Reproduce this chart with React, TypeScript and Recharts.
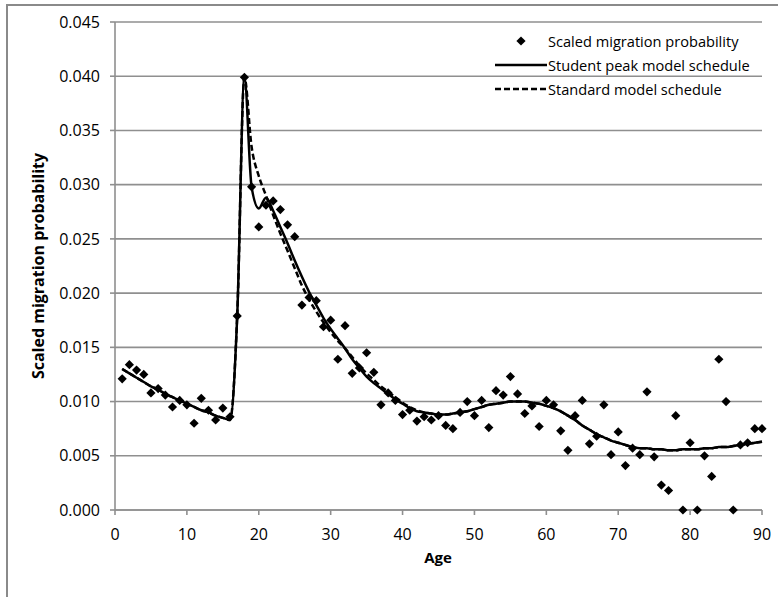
import React from 'react';
import { ComposedChart, Line, Scatter, XAxis, YAxis, CartesianGrid } from 'recharts';

// Single years of age, 1..90
const ages: number[] = [
  1, 2, 3, 4, 5, 6, 7, 8, 9, 10, 11, 12, 13, 14, 15, 16, 17, 18, 19, 20,
  21, 22, 23, 24, 25, 26, 27, 28, 29, 30, 31, 32, 33, 34, 35, 36, 37, 38, 39, 40,
  41, 42, 43, 44, 45, 46, 47, 48, 49, 50, 51, 52, 53, 54, 55, 56, 57, 58, 59, 60,
  61, 62, 63, 64, 65, 66, 67, 68, 69, 70, 71, 72, 73, 74, 75, 76, 77, 78, 79, 80,
  81, 82, 83, 84, 85, 86, 87, 88, 89, 90,
];

// Observed scaled migration probability by age
const observed: number[] = [
  0.0121, 0.0134, 0.0129, 0.0125, 0.0108, 0.0112, 0.0106, 0.0095, 0.0101, 0.0097,
  0.0080, 0.0103, 0.0092, 0.0083, 0.0094, 0.0086, 0.0179, 0.0399, 0.0298, 0.0261,
  0.0281, 0.0285, 0.0277, 0.0263, 0.0252, 0.0189, 0.0196, 0.0193, 0.0169, 0.0175,
  0.0139, 0.0170, 0.0126, 0.0131, 0.0145, 0.0127, 0.0097, 0.0108, 0.0101, 0.0088,
  0.0092, 0.0082, 0.0086, 0.0083, 0.0087, 0.0078, 0.0075, 0.0090, 0.0100, 0.0087,
  0.0101, 0.0076, 0.0110, 0.0106, 0.0123, 0.0107, 0.0089, 0.0096, 0.0077, 0.0101,
  0.0097, 0.0073, 0.0055, 0.0087, 0.0101, 0.0061, 0.0068, 0.0097, 0.0051, 0.0072,
  0.0041, 0.0057, 0.0051, 0.0109, 0.0049, 0.0023, 0.0018, 0.0087, 0.0000, 0.0062,
  0.0000, 0.0050, 0.0031, 0.0139, 0.0100, 0.0000, 0.0060, 0.0062, 0.0075, 0.0075,
];

// Fitted schedule with the student peak component
const studentPeak: number[] = [
  0.0130, 0.0126, 0.0122, 0.0118, 0.0114, 0.0111, 0.0107, 0.0104, 0.0101, 0.0098,
  0.0095, 0.0092, 0.0090, 0.0087, 0.0085, 0.0083, 0.0179, 0.0399, 0.0298, 0.0278,
  0.0288, 0.0276, 0.0261, 0.0246, 0.0230, 0.0215, 0.0201, 0.0189, 0.0177, 0.0167,
  0.0158, 0.0149, 0.0139, 0.0131, 0.0123, 0.0117, 0.0112, 0.0107, 0.0102, 0.0098,
  0.0094, 0.0091, 0.0090, 0.0089, 0.0088, 0.0088, 0.0089, 0.0090, 0.0091, 0.0093,
  0.0095, 0.0097, 0.0098, 0.0099, 0.0100, 0.0100, 0.0100, 0.0099, 0.0098, 0.0096,
  0.0094, 0.0091, 0.0087, 0.0083, 0.0078, 0.0074, 0.0070, 0.0067, 0.0064, 0.0062,
  0.0060, 0.0058, 0.0057, 0.0057, 0.0056, 0.0056, 0.0055, 0.0055, 0.0056, 0.0056,
  0.0056, 0.0057, 0.0057, 0.0058, 0.0058, 0.0059, 0.0060, 0.0061, 0.0062, 0.0063,
];

// Fitted standard schedule
const standardModel: number[] = [
  0.0130, 0.0126, 0.0122, 0.0118, 0.0114, 0.0111, 0.0107, 0.0104, 0.0101, 0.0098,
  0.0095, 0.0092, 0.0090, 0.0087, 0.0085, 0.0083, 0.0179, 0.0399, 0.0335, 0.0308,
  0.0290, 0.0272, 0.0255, 0.0239, 0.0223, 0.0207, 0.0194, 0.0183, 0.0173, 0.0164,
  0.0156, 0.0149, 0.0141, 0.0133, 0.0126, 0.0120, 0.0114, 0.0109, 0.0104, 0.0099,
  0.0095, 0.0092, 0.0090, 0.0089, 0.0088, 0.0088, 0.0089, 0.0090, 0.0091, 0.0093,
  0.0095, 0.0097, 0.0098, 0.0099, 0.0100, 0.0100, 0.0100, 0.0099, 0.0098, 0.0096,
  0.0094, 0.0091, 0.0087, 0.0083, 0.0078, 0.0074, 0.0070, 0.0067, 0.0064, 0.0062,
  0.0060, 0.0058, 0.0057, 0.0057, 0.0056, 0.0056, 0.0055, 0.0055, 0.0056, 0.0056,
  0.0056, 0.0057, 0.0057, 0.0058, 0.0058, 0.0059, 0.0060, 0.0061, 0.0062, 0.0063,
];

const xTicks: number[] = [0, 10, 20, 30, 40, 50, 60, 70, 80, 90];
const yTicks: number[] = [0, 0.005, 0.01, 0.015, 0.02, 0.025, 0.03, 0.035, 0.04, 0.045];

const legendLabels: string[] = [
  'Scaled migration probability',
  'Student peak model schedule',
  'Standard model schedule',
];

const xTitle = 'Age';
const yTitle = 'Scaled migration probability';

const rows = ages.map((age, i) => ({
  age,
  obs: observed[i],
  student: studentPeak[i],
  standard: standardModel[i],
}));

const FONT = "'Open Sans', 'Noto Sans', sans-serif";
const GRID = '#8f8f8f';

const Diamond = (props: any) => {
  const { cx, cy } = props;
  if (cx == null || cy == null) return null;
  const r = 4.6;
  return (
    <polygon
      points={`${cx},${cy - r} ${cx + r},${cy} ${cx},${cy + r} ${cx - r},${cy}`}
      fill="#000"
    />
  );
};

// Legend key: marker, solid line, dashed line
const LegendBox = () => (
  <div
    style={{
      position: 'absolute',
      left: 495,
      top: 29,
      fontFamily: FONT,
      fontSize: 14.6,
      color: '#000',
      lineHeight: '24px',
    }}
  >
    {legendLabels.map((label, i) => (
      <div key={label} style={{ display: 'flex', alignItems: 'center', height: 24 }}>
        <svg width={52} height={24} style={{ display: 'block' }}>
          {i === 0 && <polygon points="26,7.4 30.6,12 26,16.6 21.4,12" fill="#000" />}
          {i === 1 && <line x1={0} y1={12} x2={52} y2={12} stroke="#000" strokeWidth={2.5} />}
          {i === 2 && (
            <line x1={0} y1={12} x2={52} y2={12} stroke="#000" strokeWidth={2.5} strokeDasharray="6 3" />
          )}
        </svg>
        <span style={{ whiteSpace: 'nowrap', marginLeft: 1 }}>{label}</span>
      </div>
    ))}
  </div>
);

export default function App() {
  return (
    <div
      style={{
        position: 'fixed',
        left: 0,
        top: 0,
        width: 778,
        height: 597,
        overflow: 'hidden',
        background: '#fff',
      }}
    >
      <div
        style={{
          position: 'absolute',
          left: 6,
          top: 4,
          width: 900,
          height: 700,
          border: '2px solid #8a8a8a',
        }}
      />
      <div style={{ position: 'absolute', left: 0, top: 0 }}>
        <ComposedChart
          width={778}
          height={597}
          data={rows}
          margin={{ top: 22, right: 16, bottom: 47, left: 45 }}
        >
          <CartesianGrid horizontal vertical={false} stroke={GRID} strokeWidth={1.6} />
          <XAxis
            dataKey="age"
            type="number"
            domain={[0, 90]}
            ticks={xTicks}
            interval={0}
            height={40}
            tickSize={5}
            tickMargin={14}
            axisLine={{ stroke: GRID, strokeWidth: 1.6 }}
            tickLine={{ stroke: GRID, strokeWidth: 1.6 }}
            tick={{ fill: '#000', fontSize: 16, fontFamily: FONT }}
          />
          <YAxis
            type="number"
            domain={[0, 0.045]}
            ticks={yTicks}
            interval={0}
            width={70}
            tickSize={5}
            tickMargin={10}
            tickFormatter={(v: number) => v.toFixed(3)}
            axisLine={{ stroke: GRID, strokeWidth: 1.6 }}
            tickLine={{ stroke: GRID, strokeWidth: 1.6 }}
            tick={{ fill: '#000', fontSize: 16, fontFamily: FONT }}
          />
          <Scatter dataKey="obs" shape={Diamond} isAnimationActive={false} />
          <Line
            type="monotone"
            dataKey="student"
            stroke="#000"
            strokeWidth={2.5}
            dot={false}
            activeDot={false}
            isAnimationActive={false}
          />
          <Line
            type="monotone"
            dataKey="standard"
            stroke="#000"
            strokeWidth={2.5}
            strokeDasharray="6 3"
            dot={false}
            activeDot={false}
            isAnimationActive={false}
          />
        </ComposedChart>
      </div>
      <LegendBox />
      <div
        style={{
          position: 'absolute',
          left: 438,
          top: 557,
          transform: 'translate(-50%, -50%)',
          fontFamily: FONT,
          fontWeight: 700,
          fontSize: 15,
          whiteSpace: 'nowrap',
        }}
      >
        {xTitle}
      </div>
      <div
        style={{
          position: 'absolute',
          left: 38,
          top: 266,
          transform: 'translate(-50%, -50%) rotate(-90deg)',
          fontFamily: FONT,
          fontWeight: 700,
          fontSize: 16,
          whiteSpace: 'nowrap',
        }}
      >
        {yTitle}
      </div>
    </div>
  );
}
